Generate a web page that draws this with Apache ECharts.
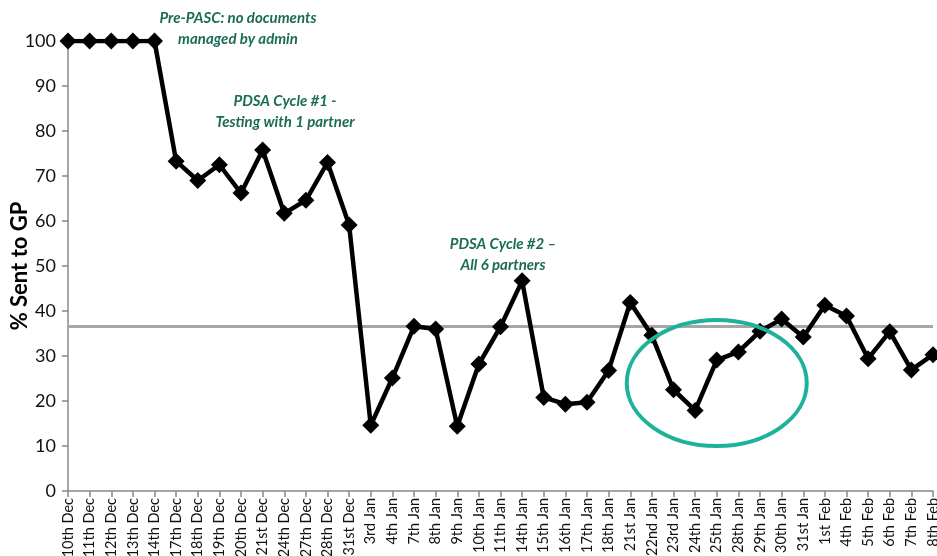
<!DOCTYPE html>
<html>
<head>
<meta charset="utf-8">
<script src="https://cdn.jsdelivr.net/npm/echarts@6/dist/echarts.min.js"></script>
<style>
html,body{margin:0;padding:0;background:#fff;}
#chart{width:937px;height:556px;}
</style>
</head>
<body>
<div id="chart"></div>
<script>
const categories = ['10th Dec','11th Dec','12th Dec','13th Dec','14th Dec','17th Dec','18th Dec','19th Dec','20th Dec','21st Dec','24th Dec','27th Dec','28th Dec','31st Dec','3rd Jan','4th Jan','7th Jan','8th Jan','9th Jan','10th Jan','11th Jan','14th Jan','15th Jan','16th Jan','17th Jan','18th Jan','21st Jan','22nd Jan','23rd Jan','24th Jan','25th Jan','28th Jan','29th Jan','30th Jan','31st Jan','1st Feb','4th Feb','5th Feb','6th Feb','7th Feb','8th Feb'];
const sentToGP = [100,100,100,100,100,73.3,69,72.5,66.2,75.8,61.7,64.6,73,59.1,14.6,25.1,36.6,36,14.4,28.2,36.5,46.7,20.8,19.3,19.7,26.8,41.9,34.6,22.5,17.9,29.1,30.9,35.5,38.2,34.2,41.3,38.9,29.4,35.4,26.9,30.3];
const meanValue = [36.6];
const yTicks = [0,10,20,30,40,50,60,70,80,90,100];
const annotations = [
  {lines:['Pre-PASC: no documents','managed by admin']},
  {lines:['PDSA Cycle #1 -','Testing with 1 partner']},
  {lines:['PDSA Cycle #2 \u2013','All 6 partners']}
];

const chart = echarts.init(document.getElementById('chart'));
const FONT = 'Lato, "Open Sans", sans-serif';
const annoColor = '#1b6b56';
const annoPos = [[238,8],[285,91],[503,234]];

function annoGraphics(){
  return annotations.map((a,i)=>({
    type:'text', x:annoPos[i][0], y:annoPos[i][1],
    style:{text:a.lines.join('\n'), fill:annoColor, font:'italic bold 15px '+FONT, align:'center', verticalAlign:'top', lineHeight:21}
  }));
}

chart.setOption({
  animation:false,
  grid:{left:68,right:4,top:41,bottom:65,containLabel:false,outerBoundsMode:'none'},
  xAxis:{
    type:'category', data:categories, boundaryGap:false,
    axisLine:{lineStyle:{color:'#888',width:1.5}},
    axisTick:{alignWithLabel:true,length:6,interval:0,lineStyle:{color:'#888',width:1.5}},
    axisLabel:{rotate:90,interval:0,fontSize:14.5,color:'#111',fontFamily:FONT,margin:7,hideOverlap:false}
  },
  yAxis:{
    type:'value', min:yTicks[0], max:yTicks[yTicks.length-1], interval:10,
    name:'% Sent to GP', nameLocation:'middle', nameRotate:90, nameGap:37, nameMoveOverlap:false,
    nameTextStyle:{fontSize:22,fontWeight:'bold',color:'#000',fontFamily:FONT},
    splitLine:{show:false},
    axisLine:{show:true,lineStyle:{color:'#888',width:1.5}},
    axisTick:{show:true,length:6,lineStyle:{color:'#888',width:1.5}},
    axisLabel:{fontSize:18,color:'#111',fontFamily:FONT,margin:12}
  },
  series:[{
    type:'line', data:sentToGP,
    symbol:'diamond', symbolSize:17,
    lineStyle:{color:'#000',width:4.5},
    itemStyle:{color:'#000'},
    z:3,
    markLine:{
      silent:true, symbol:'none', z:2,
      lineStyle:{color:'#a6a6a6',width:3,type:'solid'},
      label:{show:false},
      data:[{yAxis:meanValue[0]}]
    }
  }]
});

const c = chart.convertToPixel({xAxisIndex:0,yAxisIndex:0},[29.85,24]);
chart.setOption({
  graphic: annoGraphics().concat([{
    type:'ellipse', shape:{cx:c[0],cy:c[1],rx:90,ry:63},
    style:{fill:'none',stroke:'#1fb29a',lineWidth:4}, z:10
  }])
});
</script>
</body>
</html>
